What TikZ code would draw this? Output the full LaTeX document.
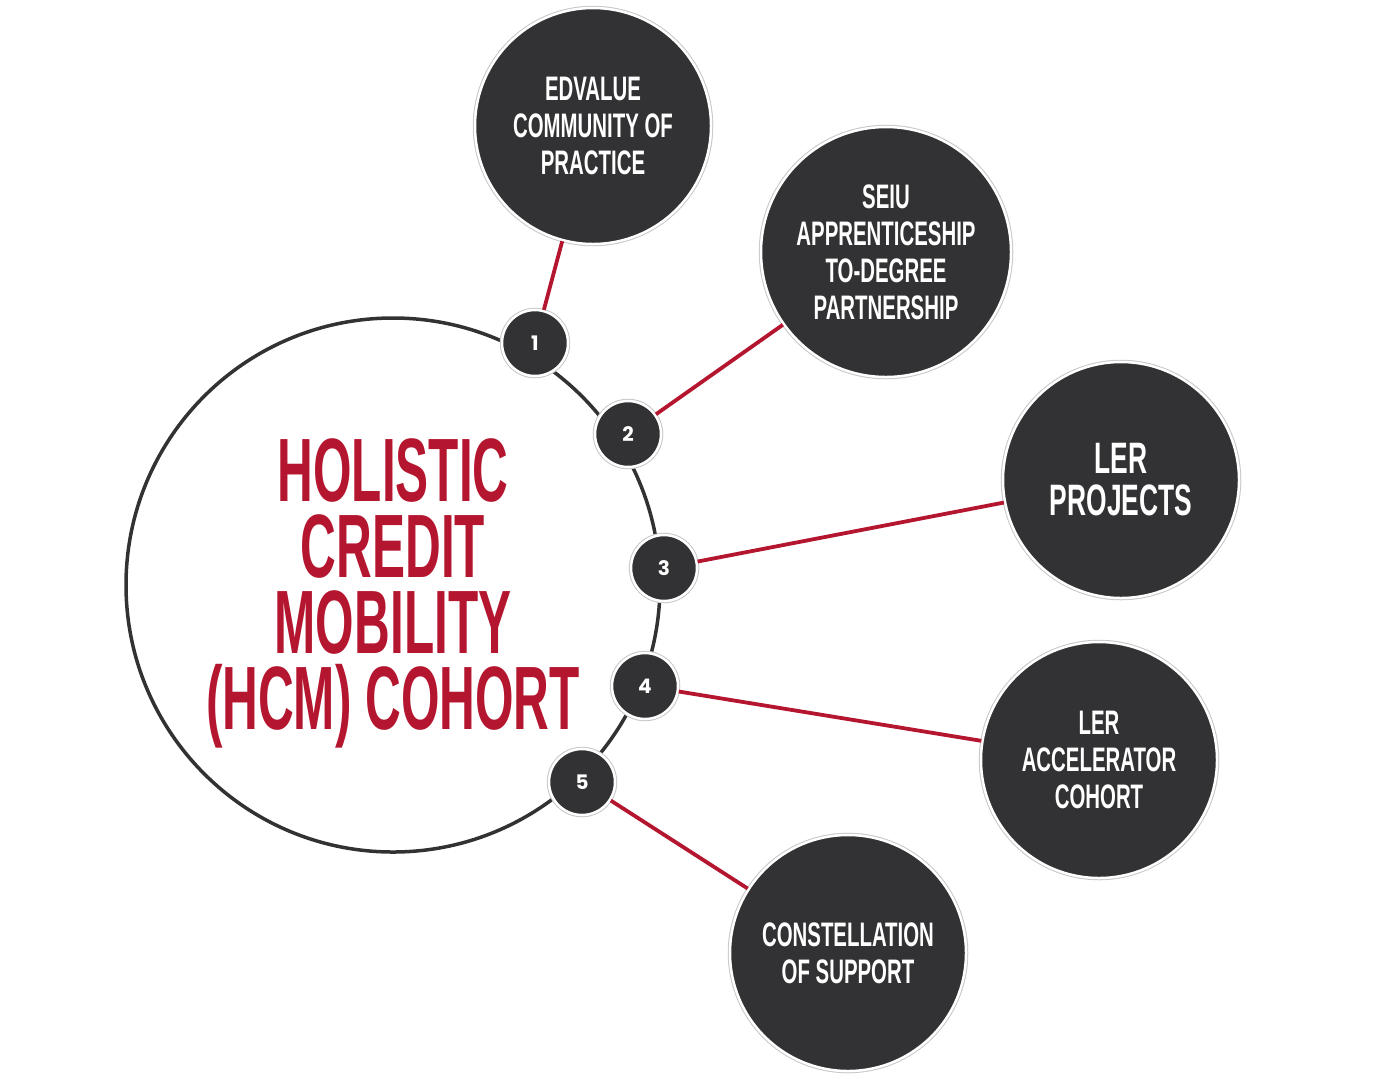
\documentclass[tikz,border=0pt]{standalone}
\usepackage{fontspec}
\usepackage{xcolor}
\usepackage[]{tikz}
\usetikzlibrary{positioning}
\newfontfamily\condfont[FakeStretch=0.55]{Liberation Sans}
\newfontfamily\condsmall[FakeStretch=0.6]{Liberation Sans}
\newfontfamily\numfont{Poppins}
\definecolor{darkGrey}{HTML}{323234}
\definecolor{crimson}{HTML}{B5162F}
\tikzstyle{ringed}   =[preaction={draw=black!22,line width=4.5pt},draw=white,line width=2.5pt,fill=darkGrey]
\tikzstyle{nodeDark} =[circle,ringed,text=white,align=center,inner sep=0pt,minimum size=236pt,
                       font=\condsmall\bfseries\fontsize{34}{37}\selectfont]
\tikzstyle{nodeNum}  =[circle,ringed,text=white,inner sep=0pt,minimum size=66pt,
                       font=\numfont\bfseries\fontsize{20}{20}\selectfont]
\tikzstyle{nodeHub}  =[circle,draw=darkGrey,line width=3.5pt,inner sep=0pt,minimum size=534pt]
\tikzstyle{hubText}  =[text=crimson,align=center,inner sep=0pt,
                       font=\condfont\bfseries\fontsize{90}{76}\selectfont]
\tikzstyle{link}     =[draw=crimson,line width=3.8pt]

\begin{document}
\begin{tikzpicture}[x=1pt,y=-1pt]
      \useasboundingbox (0,0) rectangle (1391,1080);
      \node[nodeHub] (hcm) at (393,585) {};
      \node[hubText] (hcmtitle) [below=8pt of hcm.center,anchor=center] {HOLISTIC\\CREDIT\\MOBILITY\\(HCM) COHORT};
      \node[nodeNum] (n1) at (535,343) {1};
      \node[nodeNum] (n2) at (628,434) {2};
      \node[nodeNum] (n3) at (664,568) {3};
      \node[nodeNum] (n4) at (645,686) {4};
      \node[nodeNum] (n5) at (582,782) {5};
      \node[nodeDark] (edvalue) at (593,126) {EDVALUE\\COMMUNITY OF\\PRACTICE};
      \node[nodeDark,minimum size=250pt] (seiu) at (886,252) {SEIU\\APPRENTICESHIP\\TO-DEGREE\\PARTNERSHIP};
      \node[nodeDark,font=\condsmall\bfseries\fontsize{44}{42}\selectfont] (ler) at (1121,480) {LER\\PROJECTS};
      \node[nodeDark] (accel) at (1099,760) {LER\\ACCELERATOR\\COHORT};
      \node[nodeDark] (support) at (848,953) {CONSTELLATION\\OF SUPPORT};
      \draw[link] (n1) -- (edvalue);
      \draw[link] (n2) -- (seiu);
      \draw[link] (n3) -- (ler);
      \draw[link] (n4) -- (accel);
      \draw[link] (n5) -- (support);
\end{tikzpicture}
\end{document}
